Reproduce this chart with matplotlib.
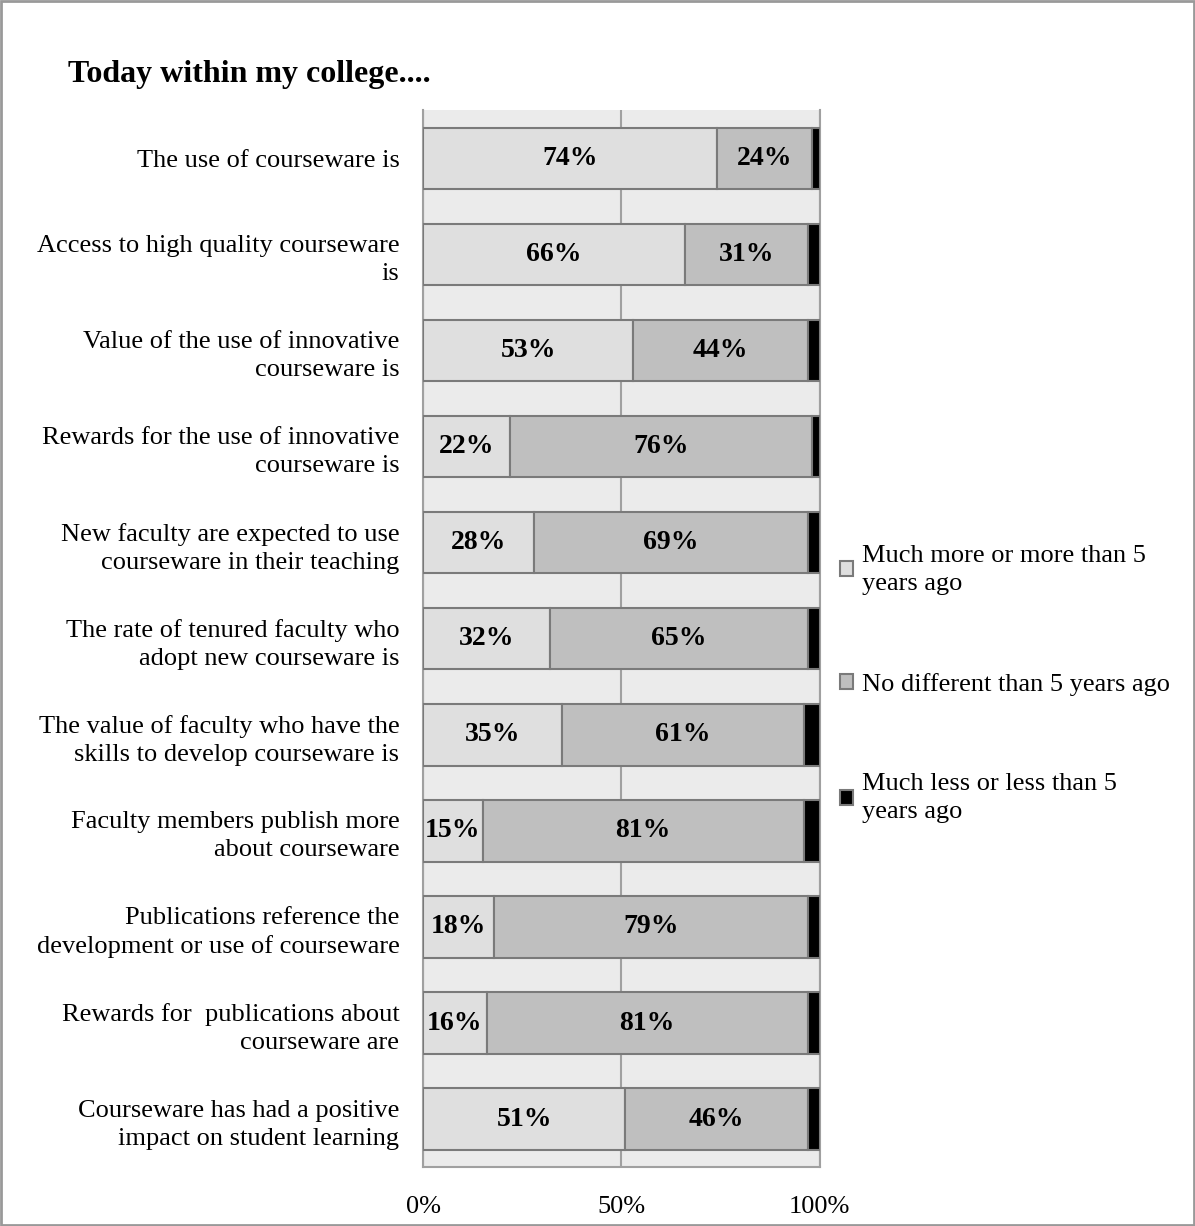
import matplotlib.pyplot as plt
import matplotlib.patches as mpatches

plt.rcParams['font.family'] = ['Liberation Serif', 'DejaVu Serif']

categories = [
    "The use of courseware is",
    "Access to high quality courseware\nis",
    "Value of the use of innovative\ncourseware is",
    "Rewards for the use of innovative\ncourseware is",
    "New faculty are expected to use\ncourseware in their teaching",
    "The rate of tenured faculty who\nadopt new courseware is",
    "The value of faculty who have the\nskills to develop courseware is",
    "Faculty members publish more\nabout courseware",
    "Publications reference the\ndevelopment or use of courseware",
    "Rewards for  publications about\ncourseware are",
    "Courseware has had a positive\nimpact on student learning",
]
more = [74, 66, 53, 22, 28, 32, 35, 15, 18, 16, 51]
same = [24, 31, 44, 76, 69, 65, 61, 81, 79, 81, 46]
less = [2, 3, 3, 2, 3, 3, 4, 4, 3, 3, 3]
series_names = ["Much more or more than 5\nyears ago",
                "No different than 5 years ago",
                "Much less or less than 5\nyears ago"]
colors = ["#dfdfdf", "#bfbfbf", "#000000"]
x_ticks = [0, 50, 100]

fig = plt.figure(figsize=(11.95, 12.26), dpi=100)
ax = fig.add_axes([0.354, 0.048, 0.332, 0.862])
ax.set_facecolor("#ebebeb")

y = list(range(len(categories)))
left = [0] * len(categories)
bars = []
for vals, col, name in zip([more, same, less], colors, series_names):
    b = ax.barh(y, vals, left=left, height=0.64, color=col,
                edgecolor="#7a7a7a", linewidth=1.5, label=name, zorder=3)
    bars.append(b)
    left = [l + v for l, v in zip(left, vals)]

for vals, lefts in [(more, [0] * len(more)), (same, more)]:
    for i, (v, l) in enumerate(zip(vals, lefts)):
        ax.text(l + v / 2, i, f"{v}%", ha="center", va="center",
                fontsize=20, fontweight="bold", zorder=4)

ax.set_xlim(0, 100)
ax.set_ylim(len(categories) - 0.5, -0.5)
ax.set_yticks(y)
ax.set_yticklabels(categories, fontsize=19, linespacing=1.35)
ax.set_xticks(x_ticks)
ax.set_xticklabels([f"{t}%" for t in x_ticks], fontsize=19)
ax.tick_params(axis="both", length=0)
ax.tick_params(axis="y", pad=17)
ax.tick_params(axis="x", pad=21)
ax.xaxis.grid(True, color="#a0a0a0", linewidth=1.5, zorder=1)
ax.set_axisbelow(True)
ax.spines["top"].set_visible(False)
for s in ["left", "bottom", "right"]:
    ax.spines[s].set_color("#a0a0a0")
    ax.spines[s].set_linewidth(1.5)

fig.text(0.057, 0.939, "Today within my college....", fontsize=23,
         fontweight="bold", ha="left", va="center")

leg = fig.legend(handles=bars, loc="center left", bbox_to_anchor=(0.683, 0.442),
                 frameon=False, fontsize=19, handlelength=0.5, handleheight=0.5,
                 handletextpad=0.35, labelspacing=2.95)
for t in leg.get_texts():
    t.set_linespacing(1.35)

fig.patches.append(mpatches.Rectangle((0.001, 0.001), 0.998, 0.998,
                                      transform=fig.transFigure, fill=False,
                                      edgecolor="#999999", linewidth=2))

fig.savefig("out.png", dpi=100)
